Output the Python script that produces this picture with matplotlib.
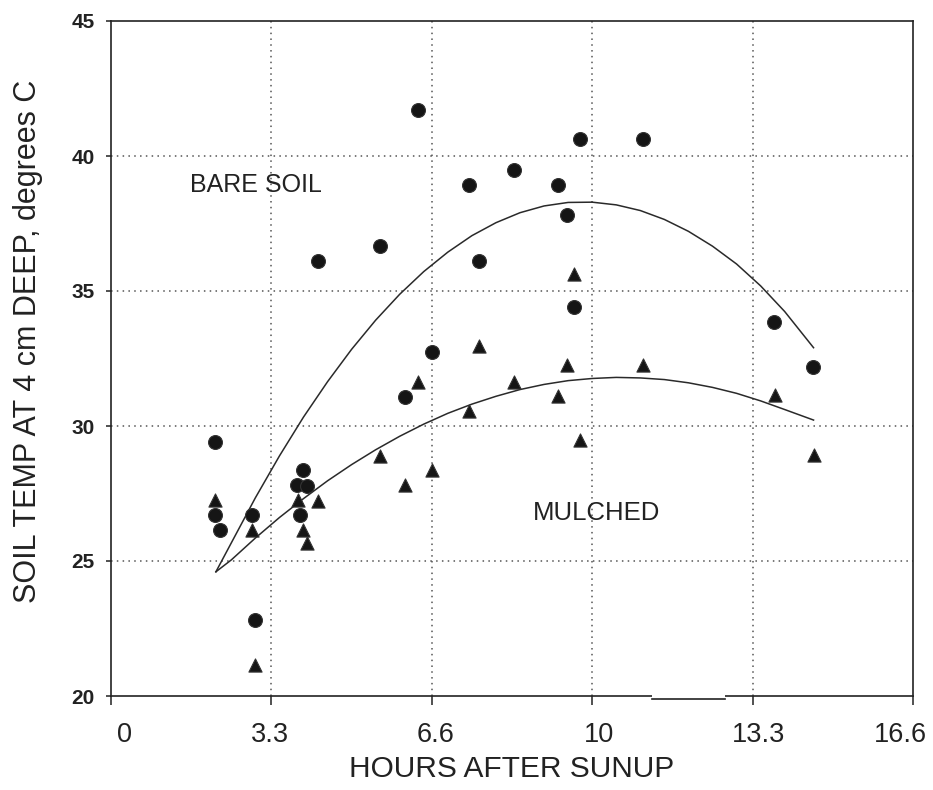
import numpy as np
import matplotlib
matplotlib.use("Agg")
import matplotlib.pyplot as plt
from matplotlib.patches import Rectangle
from matplotlib.lines import Line2D
from matplotlib.transforms import ScaledTranslation

plt.rcParams['font.family'] = ['Liberation Sans', 'DejaVu Sans']

# bare soil readings (hours after sunup, deg C)
bare_hours = [2.16, 2.16, 2.27, 2.92, 2.99, 3.86, 4.07, 4.00, 3.93, 4.31, 5.59, 6.12,
              6.39, 6.68, 7.44, 7.65, 8.38, 9.28, 9.47, 9.62, 9.75, 11.05, 13.78, 14.58]
bare_temp = [29.42, 26.70, 26.15, 26.70, 22.81, 27.81, 27.78, 28.37, 26.70, 36.11, 36.68, 31.09,
             41.70, 32.73, 38.91, 36.11, 39.48, 38.93, 37.81, 34.42, 40.62, 40.62, 33.86, 32.20]

# mulched readings
mulch_hours = [2.16, 2.92, 2.99, 3.89, 4.00, 4.07, 4.31, 5.58, 6.11, 6.39, 6.68, 7.44,
               7.65, 8.37, 9.28, 9.47, 9.62, 9.75, 11.05, 13.80, 14.60]
mulch_temp = [27.26, 26.15, 21.15, 27.26, 26.15, 25.65, 27.23, 28.90, 27.81, 31.64, 28.37, 30.56,
              32.97, 31.64, 31.12, 32.26, 35.62, 29.48, 32.26, 31.15, 28.93]

# fitted trend curves
curve_hours = [2.18, 2.5, 3.0, 3.5, 4.0, 4.5, 5.0, 5.5, 6.0, 6.5, 7.0, 7.5, 8.0,
               8.5, 9.0, 9.5, 10.0, 10.5, 11.0, 11.5, 12.0, 12.5, 13.0, 13.5, 14.0, 14.6]
bare_fit = [24.6, 25.67, 27.34, 28.89, 30.33, 31.64, 32.84, 33.92, 34.88, 35.72, 36.44, 37.05, 37.53,
            37.90, 38.15, 38.28, 38.29, 38.19, 37.98, 37.65, 37.21, 36.66, 36.00, 35.19, 34.24, 32.90]
mulch_fit = [24.6, 25.04, 25.85, 26.61, 27.31, 27.97, 28.57, 29.12, 29.62, 30.07, 30.47, 30.81, 31.10,
             31.35, 31.54, 31.68, 31.76, 31.80, 31.78, 31.72, 31.60, 31.43, 31.21, 30.93, 30.61, 30.22]

xticks = [0, 10 / 3, 20 / 3, 10, 40 / 3, 50 / 3]
xtick_labels = ["0", "3.3", "6.6", "10", "13.3", "16.6"]
yticks = [20, 25, 30, 35, 40, 45]

fig = plt.figure(figsize=(9.33, 7.9), dpi=100)
ax = fig.add_axes([111 / 933, 94 / 790, 802 / 933, 675 / 790])

ink = "#151515"
ax.plot(curve_hours, bare_fit, color="#2a2a2a", lw=1.1, zorder=2)
ax.plot(curve_hours, mulch_fit, color="#2a2a2a", lw=1.1, zorder=2)
ax.scatter(bare_hours, bare_temp, s=100, marker="o", color=ink, edgecolor="#333333",
           linewidth=0.8, zorder=3)
ax.scatter(mulch_hours, mulch_temp, s=90, marker="^", color=ink, edgecolor="#333333",
           linewidth=0.8, zorder=3)

ax.set_xlim(0, 50 / 3)
ax.set_ylim(20, 45)
ax.set_xticks(xticks)
ax.set_xticklabels(xtick_labels)
ax.set_yticks(yticks)

for v in xticks[1:-1]:
    ax.axvline(v, color="#555555", lw=1.1, ls=(0, (1, 2.8)), zorder=1)
for v in yticks[1:-1]:
    ax.axhline(v, color="#555555", lw=1.1, ls=(0, (1, 2.8)), zorder=1)

for s in ax.spines.values():
    s.set_linewidth(1.2)
    s.set_color("#222222")

ax.tick_params(axis="x", direction="out", length=6.5, width=1.1, pad=12,
               labelsize=19.5, colors="#222222")
ax.tick_params(axis="y", direction="out", length=3.8, width=1.1, pad=8,
               labelsize=15, colors="#222222")
for t in ax.get_yticklabels():
    t.set_fontweight("bold")

# nudge x tick labels sideways (pixels)
shifts = [14, -1, 4, 7, 6, -13]
for lab, dx in zip(ax.get_xticklabels(), shifts):
    lab.set_transform(lab.get_transform() + ScaledTranslation(dx / 100, 0, fig.dpi_scale_trans))

ax.set_xlabel("HOURS AFTER SUNUP", fontsize=21.5, color="#222222")
ax.xaxis.set_label_coords(0.5, -0.088)
ax.set_ylabel("SOIL TEMP AT 4 cm DEEP, degrees C", fontsize=22, color="#222222")
ax.yaxis.set_label_coords(-0.085, 0.526)

ax.text(3.01, 38.93, "BARE SOIL", fontsize=18, ha="center", va="center", color="#222222")
ax.text(10.1, 26.78, "MULCHED", fontsize=18.5, ha="center", va="center", color="#222222")

# patched strip over the bottom axis line
fig.patches.append(Rectangle((652 / 933, 82 / 790), 73 / 933, 26 / 790,
                             transform=fig.transFigure, facecolor="white",
                             edgecolor="none", zorder=5))
fig.lines.append(Line2D([652 / 933, 725 / 933], [91 / 790, 91 / 790],
                        transform=fig.transFigure, color="#222222", lw=1.2, zorder=6))

fig.savefig("out.png", dpi=100)
